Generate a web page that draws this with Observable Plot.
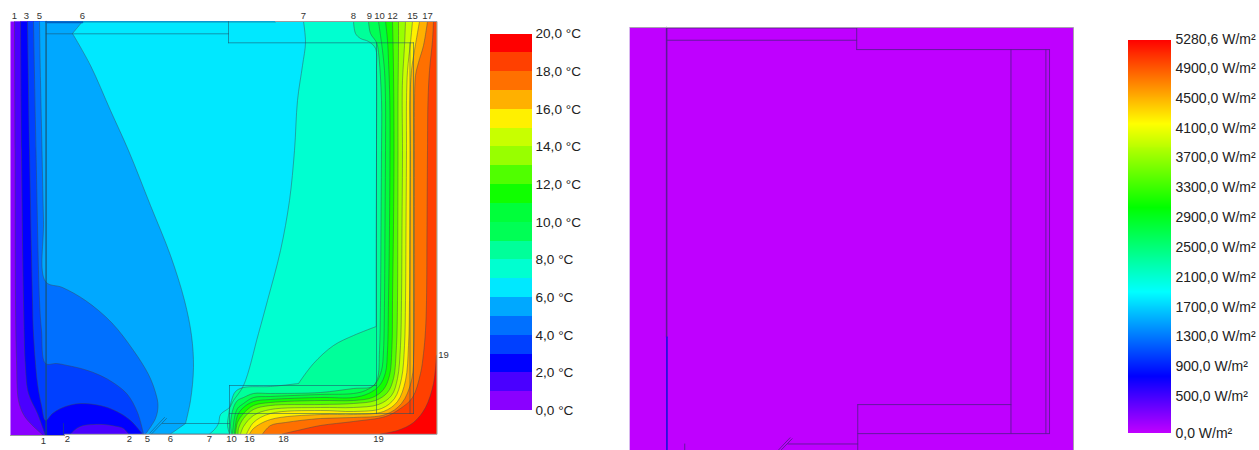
<!DOCTYPE html>
<html>
<head>
<meta charset="utf-8">
<script src="https://cdn.jsdelivr.net/npm/d3@7"></script>
<script src="https://cdn.jsdelivr.net/npm/@observablehq/plot@0.6"></script>
<style>
html,body{margin:0;padding:0;background:#fff;overflow:hidden}
#page{position:relative;width:1259px;height:450px;overflow:hidden}
#page svg{position:absolute;background:transparent}
</style>
</head>
<body>
<div id="page"></div>
<script>
// ---- temperature legend
const tempBandColors = ["#8a00ff","#4a00ff","#0000ff","#0040ff","#0070ff","#00a8ff","#00e8ff","#00ffd0","#00ff9a","#00ff55",
                        "#00ff3a","#10ff00","#50ff00","#98ff00","#c8ff00","#fff000","#ffb000","#ff7000","#ff4000","#ff0000"];
const tempTicks = [0,2,4,6,8,10,12,14,16,18,20];

// ---- flux legend
const fluxTicks = [0,500,900,1300,1700,2100,2500,2900,3300,3700,4100,4500,4900,5280.6];
const fluxStops = [0,754,1886,3017,4150,5280.6];
const fluxStopColors = ["#bf00ff","#0000ff","#00ffff","#00ff00","#ffff00","#ff0000"];

// ---- isotherms (horizontal, vertical position)
const iso1 = [[14,21],[14.5,150],[15,300],[16,360],[18,400],[23,414],[30,423],[43,435]];
const iso2 = [[20,21],[21,150],[23,300],[25,367],[28,393],[37,413],[45,435]];
const iso2island = [[70,433.5],[76,428],[83,425],[93,424],[103,424],[114,425.5],[123,428],[128,433.5]];
const iso3 = [[27,21],[29,150],[32,300],[33,333],[37,383],[41,405],[45,420],[52,413],[60,408],[70,404.5],[80,403],[94,404],[107,407],[120,413],[130,420],[142,433.5]];
const iso4 = [[33,21],[35.5,150],[39,300],[41,330],[45,363],[56,363],[67,365],[84,369],[100,375],[114,383],[127,394],[137,412],[143,433.5]];
const iso5 = [[39,21],[40,80],[41.5,150],[43,220],[45,281],[62,287],[85,300],[111,322],[133,350],[148,374],[155,392],[157.5,405],[155,418],[145,433.5]];
const iso6 = [[82,21],[72,33],[72,33],[90,65],[110,110],[128,150],[150,205],[170,255],[184,300],[191,335],[193,367],[190,400],[185,423],[185,423],[170,433.5]];
const iso7 = [[303,21],[305,42],[302,65],[297,100],[294,150],[289,200],[280,250],[267,300],[258,333],[243,385],[233,400],[229,407],[220,414],[218,423],[214,429],[209,433.5]];
const iso8 = [[353,21],[355,33],[360,38],[368,41],[375,48],[376,70],[376,150],[375.7,250],[375.7,326],[375.7,326],[353,335],[333,345],[313,363],[298,383],[298,383],[270,386],[243,387],[235,391],[231,400],[228,415],[227,425],[229,433.5]];
const iso9 = [[368,21],[370,33],[376,42],[378,52],[381,100],[381,150],[380.5,225],[380,300],[379,350],[377,378],[372,386],[353,388],[320,392],[270,393],[253,393],[243,397],[237,400],[233,407],[230,423],[231,433.5]];
const iso10 = [[378,21],[380,35],[382,50],[384,70],[385,100],[385,150],[384.5,225],[384,300],[383,350],[381,370],[375,383],[365,390],[353,393],[320,394],[270,396],[253,397],[243,403],[237,408],[234,417],[232,433.5]];
const iso11 = [[385,21],[387,40],[388,60],[389.3,100],[389.5,150],[389,225],[388,300],[387,350],[385,372],[379,385],[368,393],[353,397],[320,397],[270,399],[253,401],[243,407],[237,415],[234,433.5]];
const iso12 = [[392,21],[392.5,40],[393,70],[393.3,100],[393.5,150],[393,225],[392,300],[391.5,345],[389,375],[383,389],[372,397],[353,400],[320,400],[270,402],[253,405],[243,413],[237,422],[235,433.5]];
const iso13 = [[398,21],[398,42],[397.5,100],[397.5,150],[397.3,225],[397,300],[396,345],[393,378],[387,392],[375,400],[353,403],[320,404],[270,405],[253,409],[243,418],[238,428],[237.5,433.5]];
const iso14 = [[405,21],[404,45],[402,80],[401.7,100],[402,150],[401.5,225],[401,300],[400,345],[397,378],[391,395],[378,404],[353,407],[320,407],[270,409],[253,415],[243,426],[240,433.5]];
const iso15 = [[412,21],[410,42],[407,70],[406,100],[406,150],[405.5,225],[405,300],[404,345],[401,378],[394,398],[381,408],[353,411],[320,410],[270,413],[253,422],[246,433.5]];
const iso16 = [[419,21],[414,50],[411,70],[409.5,100],[410,150],[409.5,225],[409,300],[408,345],[405,380],[397,401],[383,411],[353,414],[320,414],[270,419],[253,428],[249,433.5]];
const iso17 = [[427,21],[423,45],[418,62],[415,75],[414,100],[414,150],[414,225],[414,300],[413.5,345],[411,380],[401,403],[385,414],[353,417],[320,418],[285,422],[270,425],[262,433.5]];
const iso18 = [[433,21],[432,40],[429,70],[427.5,100],[427,150],[426.5,225],[426,300],[425,330],[423,353],[420,373],[412,397],[400,408],[385,416],[353,421],[320,425],[297,430],[282,433.5]];
const iso19 = [[436,355],[433,383],[425,407],[413,422],[397,430],[380,433.5]];

// ---- construction lines, shared by both panels
const walls = [
  [[45.6,21],[45.6,434]], [[45.6,21.5],[228,21.5]], [[45.6,33.3],[228,33.3]], [[228,21],[228,42.3]],
  [[228,42.3],[413,42.3]], [[413,42.3],[413,413]], [[409.5,42.3],[409.5,413]], [[376,42.3],[376,413]],
  [[229,413],[413,413]], [[229,385],[376,385]], [[229,385],[229,433.5]],
  [[162,423],[229,423]], [[150,433.5],[229,433.5]],
  [[149,433],[164,417]], [[151,433.5],[166,418]], [[63,423],[63,435]]
];
const fluxWallHighlight = [[45.9,320],[45.9,434]];
const upperEdgeAccent = [[45.6,22],[82,22]];
const upperEdgeExtension = [[228,21.5],[275,21.5]];

// ---- numbered isotherm labels
const topLabels = [["1",14],["3",26],["5",39],["6",82],["7",303],["8",353],["9",369],["10",379],["12",392],["15",412],["17",427]];
const bottomLabels = [["1",43,440],["2",67,438],["2",129,438],["5",147,438],["6",170,438],["7",209,438],["10",231,438],["16",249,438],["18",283,438],["19",378,438]];
const sideLabels = [["19",443,354]];

const font = "'Liberation Sans', Arial, sans-serif";
const page = document.getElementById("page");
function place(svg,left,top){svg.style.left=left+"px";svg.style.top=top+"px";page.appendChild(svg);}
const X = d=>d[0], Y = d=>d[1];

// polygon tails: corners repeated so the smooth curve keeps them sharp
const twice = p=>[p,p];
const cornersLow = [[64,435],[64,433.5],[436,433.5],[436,21]].flatMap(twice);
const corners = [[436,433.5],[436,21]].flatMap(twice);
const warmSide = [
  [...twice(iso1[0]),...iso1,...twice(iso1.at(-1)),...cornersLow],
  [...twice(iso2[0]),...iso2,...twice(iso2.at(-1)),...twice([64,435]),...twice([64,433.5]),...twice(iso2island[0]),...iso2island,...twice(iso2island.at(-1)),...corners],
  ...[iso3,iso4,iso5,iso6,iso7,iso8,iso9,iso10,iso11,iso12,iso13,iso14,iso15,iso16,iso17,iso18].map(l=>[...twice(l[0]),...l,...twice(l.at(-1)),...corners]),
  [...twice(iso19[0]),...iso19,...twice(iso19.at(-1)),...twice([436,433.5])]
];
const isolines = [iso1,iso2,iso2island,iso3,iso4,iso5,iso6,iso7,iso8,iso9,iso10,iso11,iso12,iso13,iso14,iso15,iso16,iso17,iso18,iso19];
const panelEdge = [[10,21],[436,21],[436,433.5],[64,433.5],[64,435],[10,435]];

// ---- temperature map
place(Plot.plot({
  width:470,height:450,margin:0,
  x:{domain:[0,470],range:[0,470],axis:null},
  y:{domain:[0,450],range:[0,450],axis:null},
  style:{fontFamily:font,background:"transparent"},
  marks:[
    Plot.line(panelEdge,{x:X,y:Y,fill:tempBandColors[0],stroke:"none"}),
    ...warmSide.map((poly,i)=>Plot.line(poly,{x:X,y:Y,fill:tempBandColors[i+1],stroke:"none",curve:"catmull-rom"})),
    ...isolines.map(l=>Plot.line(l,{x:X,y:Y,stroke:"#3c4650",strokeWidth:0.75,strokeOpacity:0.6,curve:"catmull-rom"})),
    ...walls.map(w=>Plot.line(w,{x:X,y:Y,stroke:"#1d5068",strokeWidth:1,strokeOpacity:0.55})),
    Plot.line([[45.6,21],[45.6,434]],{x:X,y:Y,stroke:"#1d5068",strokeWidth:1.6,strokeOpacity:0.5}),
    Plot.line(upperEdgeAccent,{x:X,y:Y,stroke:"#0060c0",strokeWidth:1.6}),
    Plot.line(upperEdgeExtension,{x:X,y:Y,stroke:"#1d8a98",strokeWidth:1,strokeOpacity:0.8}),
    Plot.line([[10,435],[64,435],[64,433.8],[436.5,433.8],[436.5,21],[275,21]],{x:X,y:Y,stroke:"#9a9aa0",strokeWidth:1}),
    Plot.text(topLabels,{x:d=>d[1],y:()=>15.5,text:d=>d[0],fontSize:9.5,fill:"#333"}),
    Plot.text(bottomLabels,{x:d=>d[1],y:d=>d[2],text:d=>d[0],fontSize:9.5,fill:"#333"}),
    Plot.text(sideLabels,{x:d=>d[1],y:d=>d[2],text:d=>d[0],fontSize:9.5,fill:"#333"})
  ]
}),0,0);

// ---- temperature legend
place(Plot.plot({
  width:120,height:450,margin:0,
  x:{domain:[480,600],range:[0,120],axis:null},
  y:{domain:[0,20],range:[410,33.5],axis:null},
  style:{fontFamily:font,background:"transparent"},
  marks:[
    Plot.rect(tempBandColors,{x1:()=>490,x2:()=>531.6,y1:(d,i)=>i,y2:(d,i)=>i+1,fill:d=>d,shapeRendering:"crispEdges"}),
    Plot.text(tempTicks,{x:()=>535,y:d=>d,text:d=>`${d},0 °C`,textAnchor:"start",fontSize:13.6,fill:"#222"})
  ]
}),480,0);

// ---- flux map (same construction, its own scale)
place(Plot.plot({
  width:460,height:450,margin:0,
  x:{domain:[10,436],range:[9,453],axis:null},
  y:{domain:[21,429.3],range:[27,450],axis:null},
  style:{fontFamily:font,background:"transparent"},
  marks:[
    Plot.line(panelEdge,{x:X,y:Y,fill:fluxStopColors[0],stroke:"none",clip:true}),
    ...walls.map(w=>Plot.line(w,{x:X,y:Y,stroke:"#5c1a96",strokeWidth:1,strokeOpacity:0.9,clip:true})),
    Plot.line([[45.6,21],[45.6,320]],{x:X,y:Y,stroke:"#5c1a96",strokeWidth:1.5,clip:true}),
    Plot.line(fluxWallHighlight,{x:X,y:Y,stroke:"#2a10e0",strokeWidth:1.8,clip:true}),
    Plot.line([[10,21],[436,21],[436,430]],{x:X,y:Y,stroke:"#a9a0b0",strokeWidth:1,clip:true}),
    Plot.line([[10,21],[10,430]],{x:X,y:Y,stroke:"#d8b8ee",strokeWidth:1,clip:true})
  ]
}),620,0);

// ---- flux legend
const fluxColor = d3.scaleLinear().domain(fluxStops).range(fluxStopColors);
const fluxBins = d3.range(0,5280.6,13.4);
const fluxLabel = d=>`${d===5280.6?"5280,6":d+",0"} W/m²`;
place(Plot.plot({
  width:139,height:450,margin:0,
  x:{domain:[1120,1259],range:[0,139],axis:null},
  y:{domain:[0,5280.6],range:[433.3,39.5],axis:null},
  style:{fontFamily:font,background:"transparent"},
  marks:[
    Plot.rect(fluxBins,{x1:()=>1128,x2:()=>1171,y1:d=>d,y2:d=>Math.min(d+14.5,5280.6),fill:d=>fluxColor(d),shapeRendering:"crispEdges"}),
    Plot.text(fluxTicks,{x:()=>1175,y:d=>d,text:fluxLabel,textAnchor:"start",fontSize:14,fill:"#222"})
  ]
}),1120,0);
</script>
</body>
</html>
